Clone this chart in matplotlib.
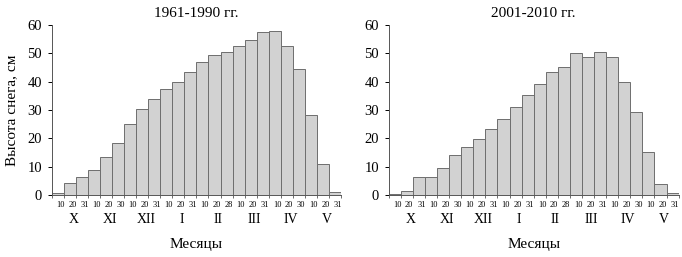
import numpy as np
import matplotlib.pyplot as plt

plt.rcParams['font.family'] = ['Liberation Serif', 'DejaVu Serif']

months = ['X', 'XI', 'XII', 'I', 'II', 'III', 'IV', 'V']
days = ['10', '20', '31', '10', '20', '30', '10', '20', '31', '10', '20', '31',
        '10', '20', '28', '10', '20', '31', '10', '20', '30', '10', '20', '31']

snow_1961 = [0.9, 4.1, 6.4, 8.7, 13.3, 18.4, 25.1, 30.4, 33.8, 37.6, 40.1, 43.6,
             46.9, 49.3, 50.4, 52.5, 54.9, 57.5, 57.8, 52.5, 44.6, 28.2, 10.8, 1.0]
snow_2001 = [0.5, 1.4, 6.4, 6.4, 9.6, 14.0, 17.1, 19.8, 23.4, 26.8, 31.2, 35.5,
             39.3, 43.4, 45.2, 50.1, 48.9, 50.7, 48.9, 40.0, 29.2, 15.2, 3.8, 0.7]

fig = plt.figure(figsize=(6.82, 2.57), dpi=100)
ax1 = fig.add_axes([0.076, 0.241, 0.424, 0.661])
ax2 = fig.add_axes([0.570, 0.241, 0.425, 0.661])

x = np.arange(len(days))


def draw(ax, vals, title, ylabel=None):
    ax.bar(x, vals, width=1.0, color='#d2d2d2', edgecolor='#6e6e6e', linewidth=0.7)
    ax.set_xlim(-0.5, 23.5)
    ax.set_ylim(0, 60)
    ax.set_yticks(range(0, 61, 10))
    ax.tick_params(axis='y', labelsize=10.5, length=3, width=0.7, pad=4)
    for s in ['top', 'right']:
        ax.spines[s].set_visible(False)
    ax.spines['left'].set_color('#555555')
    ax.spines['bottom'].set_color('#555555')
    ax.spines['left'].set_linewidth(0.7)
    ax.spines['bottom'].set_linewidth(0.7)
    ax.set_xticks(np.arange(-0.5, 24, 1))
    ax.set_xticklabels([])
    ax.tick_params(axis='x', length=2, width=0.6, color='#555555')
    for i, d in enumerate(days):
        ax.annotate(d, (i + 0.2, 0), xycoords=('data', 'axes fraction'),
                    xytext=(0, -4), textcoords='offset points',
                    ha='center', va='top', fontsize=6)
    for j, m in enumerate(months):
        ax.annotate(m, (3 * j + 1.3, 0), xycoords=('data', 'axes fraction'),
                    xytext=(0, -13), textcoords='offset points',
                    ha='center', va='top', fontsize=10)
    ax.annotate('Месяцы', (0.5, 0), xycoords='axes fraction',
                xytext=(0, -31), textcoords='offset points',
                ha='center', va='top', fontsize=11)
    ax.set_title(title, fontsize=11, pad=6)
    if ylabel:
        ax.set_ylabel(ylabel, fontsize=11, labelpad=7)


draw(ax1, snow_1961, '1961-1990 гг.', 'Высота снега, см')
draw(ax2, snow_2001, '2001-2010 гг.')

fig.savefig('out.png', dpi=100)
